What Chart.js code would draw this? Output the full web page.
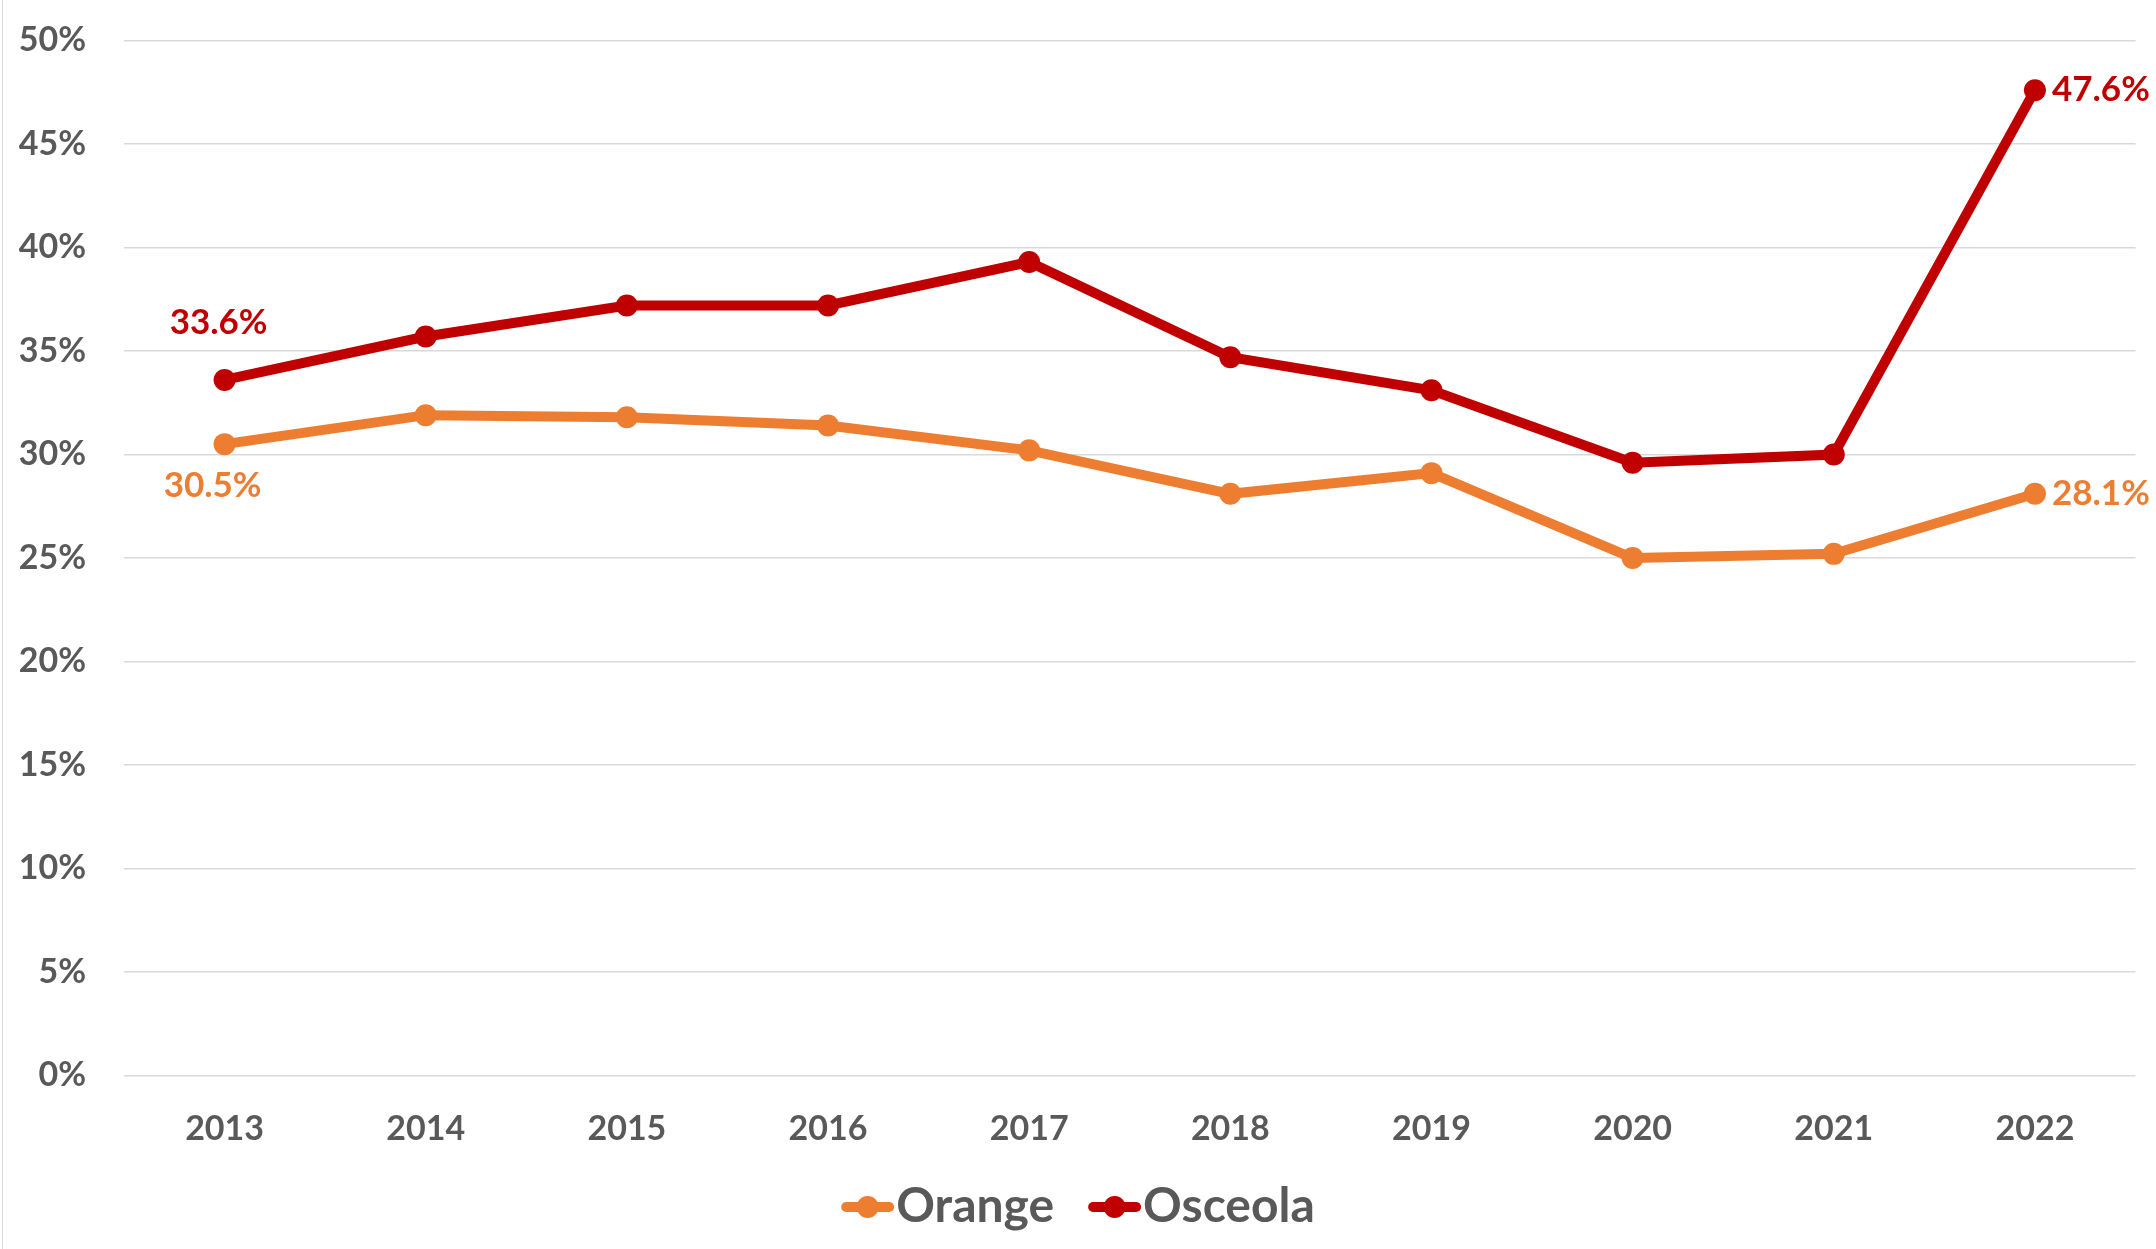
<!DOCTYPE html>
<html>
<head>
<meta charset="utf-8">
<title>Orange vs Osceola</title>
<script src="https://cdn.jsdelivr.net/npm/chart.js@4.4.0/dist/chart.umd.min.js"></script>
<style>
  body { margin: 0; background: #fff; }
  #wrap { position: relative; width: 2156px; height: 1249px; }
  #wrap:before { content: ""; position: absolute; left: 2px; top: 0; bottom: 0; width: 1px; background: #d9d9d9; }
  canvas { display: block; }
</style>
</head>
<body>
<div id="wrap"><canvas id="chart" width="2156" height="1249"></canvas></div>
<script>
// chart data
const years = ["2013", "2014", "2015", "2016", "2017", "2018", "2019", "2020", "2021", "2022"];
const orangeValues = [30.5, 31.9, 31.8, 31.4, 30.2, 28.1, 29.1, 25.0, 25.2, 28.1];
const osceolaValues = [33.6, 35.7, 37.2, 37.2, 39.3, 34.7, 33.1, 29.6, 30.0, 47.6];
const yMin = 0;
const yMax = 50;
const yStep = 5;

const ORANGE = "#ED7D31";
const RED = "#C00000";
const GREY_TEXT = "#595959";
const FONT = "Lato, 'Open Sans', sans-serif";

// first/last value labels, placed the way the original has them
const endLabels = [
  { dataset: 0, index: 0, pos: "below" },
  { dataset: 0, index: 9, pos: "right" },
  { dataset: 1, index: 0, pos: "above" },
  { dataset: 1, index: 9, pos: "right" },
];

const valueLabelPlugin = {
  id: "valueLabels",
  afterDatasetsDraw(chart) {
    const ctx = chart.ctx;
    ctx.save();
    ctx.font = "700 35px " + FONT;
    endLabels.forEach((l) => {
      const ds = chart.data.datasets[l.dataset];
      const pt = chart.getDatasetMeta(l.dataset).data[l.index];
      const text = ds.data[l.index].toFixed(1) + "%";
      ctx.fillStyle = ds.borderColor;
      ctx.textBaseline = "middle";
      if (l.pos === "right") {
        ctx.textAlign = "left";
        ctx.fillText(text, pt.x + 17, pt.y);
      } else if (l.pos === "above") {
        ctx.textAlign = "center";
        ctx.fillText(text, pt.x - 6, pt.y - 57);
      } else {
        ctx.textAlign = "center";
        ctx.fillText(text, pt.x - 12, pt.y + 42);
      }
    });
    ctx.restore();
  },
};

// legend drawn under the axis: line + marker, then the series name
const lineLegendPlugin = {
  id: "lineLegend",
  afterDraw(chart) {
    const ctx = chart.ctx;
    const symW = 53, gap = 2, itemGap = 34;
    ctx.save();
    ctx.font = "700 48px " + FONT;
    const items = chart.data.datasets.map((ds) => ({
      text: ds.label,
      color: ds.borderColor,
      w: symW + gap + ctx.measureText(ds.label).width,
    }));
    const total = items.reduce((s, it) => s + it.w, 0) + itemGap * (items.length - 1);
    let x = chart.width / 2 - total / 2;
    const y = 1207;
    items.forEach((it) => {
      ctx.strokeStyle = it.color;
      ctx.lineWidth = 10;
      ctx.lineCap = "round";
      ctx.beginPath();
      ctx.moveTo(x + 5, y);
      ctx.lineTo(x + symW - 5, y);
      ctx.stroke();
      ctx.fillStyle = it.color;
      ctx.beginPath();
      ctx.arc(x + symW / 2, y, 11, 0, Math.PI * 2);
      ctx.fill();
      ctx.fillStyle = GREY_TEXT;
      ctx.textAlign = "left";
      ctx.textBaseline = "middle";
      ctx.fillText(it.text, x + symW + gap, y);
      x += it.w + itemGap;
    });
    ctx.restore();
  },
};

function drawChart() {
  const ctx = document.getElementById("chart").getContext("2d");
  new Chart(ctx, {
    type: "line",
    data: {
      labels: years,
      datasets: [
        {
          label: "Orange",
          data: orangeValues,
          borderColor: ORANGE,
          backgroundColor: ORANGE,
          borderWidth: 10,
          pointRadius: 11,
          pointHoverRadius: 11,
          pointBorderWidth: 0,
          tension: 0,
        },
        {
          label: "Osceola",
          data: osceolaValues,
          borderColor: RED,
          backgroundColor: RED,
          borderWidth: 10,
          pointRadius: 11,
          pointHoverRadius: 11,
          pointBorderWidth: 0,
          tension: 0,
        },
      ],
    },
    options: {
      responsive: false,
      animation: false,
      layout: { padding: { top: 40.5, right: 20.5, left: 0, bottom: 85 } },
      plugins: {
        legend: { display: false },
        tooltip: { enabled: false },
      },
      scales: {
        x: {
          offset: true,
          grid: { display: false, drawTicks: false },
          border: { display: false },
          ticks: {
            color: GREY_TEXT,
            font: { family: FONT, size: 34, weight: "700" },
            padding: 33,
            maxRotation: 0,
          },
          afterFit(scale) {
            scale.height = 88.5;
            scale.paddingLeft = 0;
            scale.paddingRight = 0;
          },
        },
        y: {
          min: yMin,
          max: yMax,
          ticks: {
            stepSize: yStep,
            color: GREY_TEXT,
            font: { family: FONT, size: 34, weight: "700" },
            padding: 38,
            callback: (v) => v + "%",
          },
          grid: { color: "#d9d9d9", lineWidth: 1.5, drawTicks: false },
          border: { display: false },
          afterFit(scale) {
            scale.width = 124;
            scale.paddingTop = 0;
            scale.paddingBottom = 0;
          },
        },
      },
    },
    plugins: [valueLabelPlugin, lineLegendPlugin],
  });
}

document.fonts.load("700 34px Lato").then(drawChart, drawChart);
</script>
</body>
</html>
